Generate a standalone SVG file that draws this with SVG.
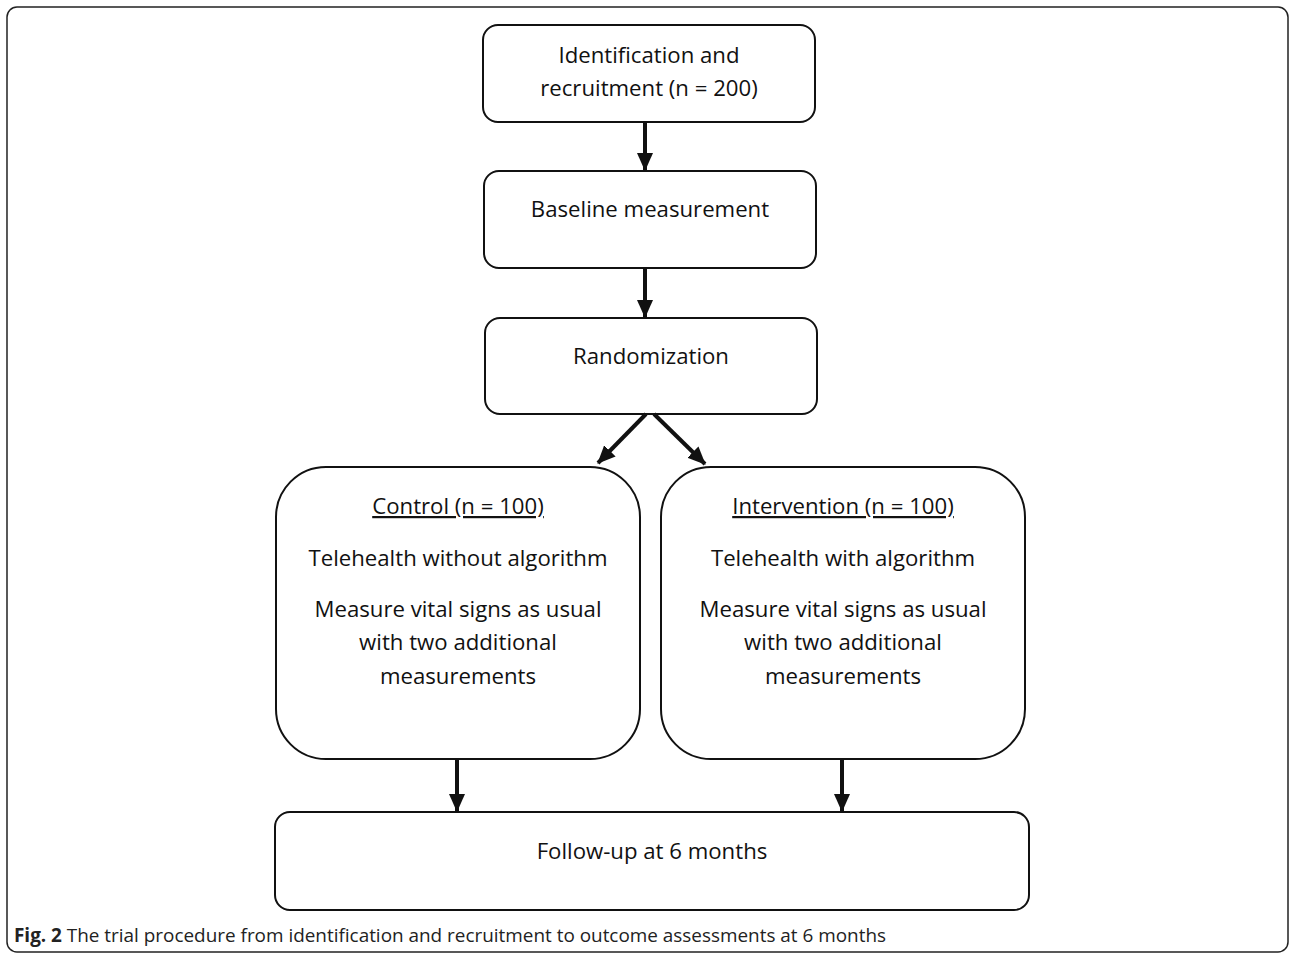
<svg xmlns="http://www.w3.org/2000/svg" width="1295" height="960" viewBox="0 0 1295 960">
<defs>
<marker id="ah" markerWidth="18" markerHeight="16" refX="17" refY="8" orient="auto" markerUnits="userSpaceOnUse" viewBox="0 0 18 16">
<path d="M0,0 L18,8 L0,16 z" fill="#111"/>
</marker>
<style>
.box{fill:#fff;stroke:#111;stroke-width:2}
.t{font-family:"Open Sans","Liberation Sans",sans-serif;font-size:22.2px;fill:#111;text-anchor:middle}
.c{stroke:#111;stroke-width:4;fill:none;marker-end:url(#ah)}
.cap{font-family:"Open Sans","Liberation Sans",sans-serif;font-size:19px;fill:#222}
</style>
</defs>
<rect width="1295" height="960" fill="#fff"/>
<rect x="7" y="7" width="1281" height="945" rx="10" fill="none" stroke="#222" stroke-width="1.5"/>
<g id="n1"><rect class="box" x="483" y="25" width="332" height="97" rx="15"/>
<text class="t" x="649" y="63">Identification and</text>
<text class="t" x="649" y="96">recruitment (n = 200)</text></g>
<g id="n2"><rect class="box" x="484" y="171" width="332" height="97" rx="15"/>
<text class="t" x="650" y="217">Baseline measurement</text></g>
<g id="n3"><rect class="box" x="485" y="318" width="332" height="96" rx="15"/>
<text class="t" x="651" y="364">Randomization</text></g>
<g id="n4"><rect class="box" x="276" y="467" width="364" height="292" rx="50"/>
<text class="t" x="458" y="514" text-decoration="underline">Control (n = 100)</text>
<text class="t" x="458" y="566">Telehealth without algorithm</text>
<text class="t" x="458" y="617">Measure vital signs as usual</text>
<text class="t" x="458" y="650">with two additional</text>
<text class="t" x="458" y="684">measurements</text></g>
<g id="n5"><rect class="box" x="661" y="467" width="364" height="292" rx="50"/>
<text class="t" x="843" y="514" text-decoration="underline">Intervention (n = 100)</text>
<text class="t" x="843" y="566">Telehealth with algorithm</text>
<text class="t" x="843" y="617">Measure vital signs as usual</text>
<text class="t" x="843" y="650">with two additional</text>
<text class="t" x="843" y="684">measurements</text></g>
<g id="n6"><rect class="box" x="275" y="812" width="754" height="98" rx="15"/>
<text class="t" x="652" y="859">Follow-up at 6 months</text></g>
<g id="connectors">
<line class="c" x1="645" y1="122" x2="645" y2="170"/>
<line class="c" x1="645" y1="268" x2="645" y2="317"/>
<line class="c" x1="646" y1="414" x2="598" y2="463"/>
<line class="c" x1="654" y1="414" x2="705" y2="464"/>
<line class="c" x1="457" y1="759" x2="457" y2="811"/>
<line class="c" x1="842" y1="759" x2="842" y2="811"/>
</g>
<text class="cap" x="14" y="942" textLength="872" lengthAdjust="spacingAndGlyphs"><tspan font-weight="bold">Fig. 2</tspan> The trial procedure from identification and recruitment to outcome assessments at 6 months</text>
</svg>
